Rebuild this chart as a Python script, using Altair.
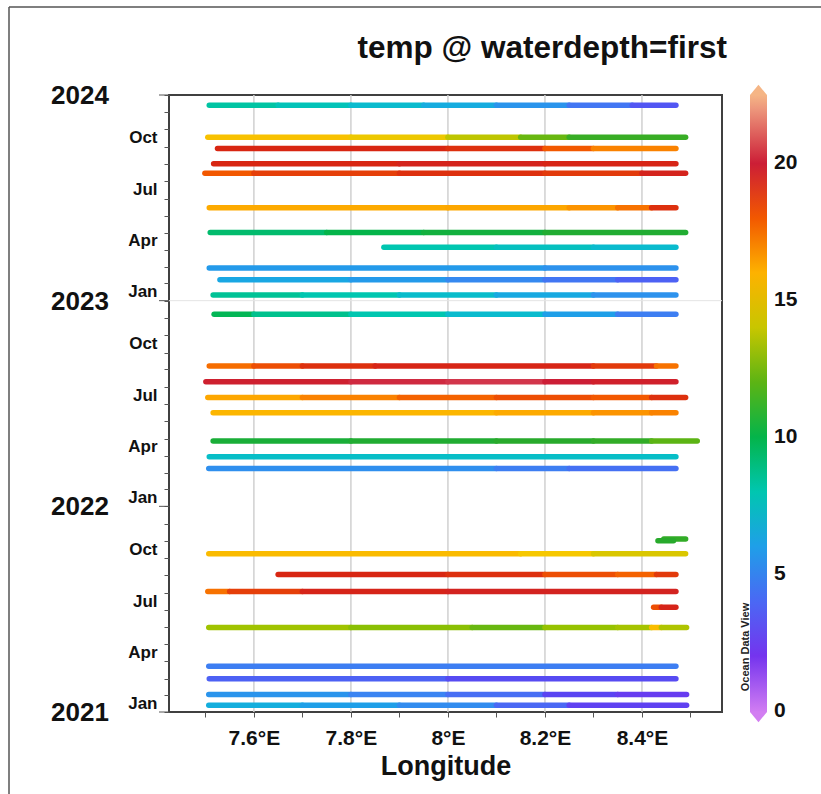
import altair as alt
import pandas as pd

FONT = "Liberation Sans"

# ---------------- data ----------------
dates = ["2023-12-14", "2023-10-18", "2023-09-28", "2023-09-01", "2023-08-15",
         "2023-06-15", "2023-05-02", "2023-04-06", "2023-02-28", "2023-02-07",
         "2023-01-11", "2022-12-08", "2022-09-07", "2022-08-10", "2022-07-13",
         "2022-06-16", "2022-04-27", "2022-03-30", "2022-03-09", "2021-11-04",
         "2021-11-01", "2021-10-09", "2021-09-02", "2021-08-03", "2021-07-06",
         "2021-05-31", "2021-03-23", "2021-03-01", "2021-02-01", "2021-01-13"]

lon_knots = [
    [7.508, 7.65, 7.8, 7.95, 8.1, 8.25, 8.38, 8.47],
    [7.505, 7.8, 8.0, 8.15, 8.25, 8.49],
    [7.525, 8.0, 8.2, 8.3, 8.47],
    [7.517, 7.9, 8.2, 8.47],
    [7.499, 7.6, 7.9, 8.2, 8.4, 8.49],
    [7.508, 8.0, 8.25, 8.35, 8.42, 8.47],
    [7.51, 7.75, 7.95, 8.2, 8.49],
    [7.868, 8.1, 8.3, 8.47],
    [7.508, 8.2, 8.47],
    [7.53, 7.8, 8.0, 8.2, 8.35, 8.47],
    [7.516, 7.7, 7.9, 8.1, 8.3, 8.47],
    [7.518, 7.6, 7.8, 8.0, 8.2, 8.35, 8.47],
    [7.508, 7.6, 7.7, 7.85, 8.3, 8.43, 8.47],
    [7.501, 7.8, 8.0, 8.2, 8.3, 8.47],
    [7.505, 7.7, 7.9, 8.1, 8.3, 8.42, 8.49],
    [7.516, 8.1, 8.3, 8.42, 8.47],
    [7.516, 7.8, 8.1, 8.3, 8.42, 8.514],
    [7.508, 8.47],
    [7.507, 8.1, 8.25, 8.47],
    [8.445, 8.49],
    [8.433, 8.465],
    [7.507, 8.15, 8.3, 8.49],
    [7.65, 8.0, 8.2, 8.35, 8.43, 8.47],
    [7.505, 7.55, 7.7, 8.0, 8.47],
    [8.424, 8.44, 8.47],
    [7.507, 7.8, 8.05, 8.2, 8.35, 8.42, 8.44, 8.492],
    [7.507, 8.47],
    [7.508, 8.0, 8.47],
    [7.507, 7.8, 8.0, 8.2, 8.35, 8.492],
    [7.507, 7.7, 7.9, 8.1, 8.25, 8.492],
]

seg_temps = [
    [8.3, 7.8, 7.2, 6.5, 5.6, 4.5, 3.5],
    [15.3, 14.8, 13.8, 12.2, 11.3],
    [19.0, 18.8, 18.0, 17.2],
    [19.0, 19.3, 19.1],
    [18.0, 18.5, 18.8, 18.6, 19.3],
    [16.2, 16.3, 16.8, 17.5, 18.8],
    [9.4, 10.0, 10.4, 10.8],
    [8.0, 7.6, 7.2],
    [5.8, 5.5],
    [6.3, 5.8, 5.2, 4.5, 3.8],
    [8.6, 8.0, 7.3, 6.4, 5.5],
    [9.8, 8.8, 8.0, 7.2, 6.0, 4.8],
    [17.6, 18.2, 18.8, 19.1, 18.6, 17.5],
    [19.8, 20.2, 20.4, 20.0, 19.7],
    [16.3, 17.2, 17.8, 18.2, 18.0, 18.8],
    [15.8, 16.2, 16.8, 17.2],
    [10.6, 10.8, 11.0, 11.2, 12.0],
    [7.4],
    [5.4, 4.8, 4.3],
    [11.2],
    [11.0],
    [15.6, 15.0, 14.4],
    [19.0, 18.8, 18.2, 17.8, 18.6],
    [17.5, 18.5, 19.2, 19.4],
    [18.2, 19.2],
    [13.2, 12.8, 12.2, 13.0, 13.3, 15.5, 13.5],
    [4.8],
    [3.8, 3.2],
    [5.6, 5.0, 4.2, 3.0, 2.5],
    [6.6, 6.0, 5.3, 4.0, 2.8],
]

# colour map (Ocean Data View rainbow)
cb_values = [-0.05, 1, 2, 3, 4, 5, 6, 7, 8, 9, 10, 11, 12, 13, 14, 15, 16, 17,
             18, 19, 20, 21, 22.5]
cb_colors = ["#d27ef2", "#9a48ee", "#7434ee", "#5a44f2", "#4a68f4", "#3a84f2",
             "#1f9fe8", "#0cb8d6", "#00c6b0", "#00c084", "#04b44a", "#28aa2c",
             "#5cb414", "#96c200", "#c8c600", "#f6c800", "#fdb200", "#fc8c00",
             "#f25800", "#d82612", "#cc1e36", "#dc5a6a", "#f5b585"]
cb_labels = [0, 5, 10, 15, 20]

x_ticks = [7.5, 7.6, 7.7, 7.8, 7.9, 8.0, 8.1, 8.2, 8.3, 8.4, 8.5]
grid_lons = [7.6, 7.8, 8.0, 8.2, 8.4]
year_dates = ["2021-01-01", "2022-01-01", "2023-01-01", "2024-01-01"]
year_labels = ["2021", "2022", "2023", "2024"]
hgrid_dates = ["2023-01-01"]

# ---------------- tables ----------------
rows = []
for d, lons, temps in zip(dates, lon_knots, seg_temps):
    for i, t in enumerate(temps):
        rows.append({"date": d, "lon0": lons[i], "lon1": lons[i + 1], "temp": t})
seg_df = pd.DataFrame(rows)
grid_df = pd.DataFrame({"lon0": grid_lons})
year_df = pd.DataFrame({"date": year_dates, "label": year_labels})
hgrid_df = pd.DataFrame({"date": hgrid_dates})

def ms(s):
    return int(pd.Timestamp(s).value // 10**6)

month_vals = [ms(f"{y}-{m:02d}-01") for y in (2021, 2022, 2023) for m in range(1, 13)] + [ms("2024-01-01")]

W, H = 553, 617

xscale = alt.Scale(domain=[7.425, 8.565], nice=False, zero=False)
xaxis = alt.Axis(values=x_ticks, grid=False, domain=False,
                 labelExpr="round(datum.value*10) % 2 == 0 ? format(datum.value, '.1~f') + '°E' : ''",
                 labelFont=FONT, labelFontWeight="bold", labelFontSize=21, labelColor="#111",
                 labelPadding=10, tickSize=5, tickColor="#555",
                 title="Longitude", titleFont=FONT, titleFontWeight="bold", titleFontSize=27,
                 titleColor="#111", titlePadding=5)
yscale = alt.Scale(type="utc", domain=[ms("2021-01-01"), ms("2024-01-01")], nice=False)
yaxis = alt.Axis(values=month_vals, grid=False, domain=False, title=None,
                 labelExpr="(utcmonth(datum.value) % 3 == 0 && utcyear(datum.value) < 2024) ? utcFormat(datum.value, '%b') : ''",
                 labelFont=FONT, labelFontWeight="bold", labelFontSize=17, labelColor="#111",
                 labelBaseline="middle", labelOffset=-9, labelPadding=7,
                 tickSize=5, tickColor="#555", labelOverlap=False)

def X(field):
    return alt.X(f"{field}:Q", scale=xscale, axis=xaxis)

def Y(field):
    return alt.Y(f"{field}:T", scale=yscale, axis=yaxis)

grid = alt.Chart(grid_df).mark_rule(color="#d0d0d0", strokeWidth=1.5).encode(x=X("lon0"))

hgrid = alt.Chart(hgrid_df).mark_rule(color="#e4e4e4", strokeWidth=1).encode(
    y=Y("date"), x=alt.value(0), x2=alt.value(W))

segs = alt.Chart(seg_df).mark_rule(strokeWidth=5.5, strokeCap="round").encode(
    x=X("lon0"), x2="lon1", y=Y("date"),
    color=alt.Color("temp:Q",
                    scale=alt.Scale(domain=cb_values, range=cb_colors, interpolate="rgb"),
                    legend=alt.Legend(orient="none", legendX=581, legendY=0,
                                      direction="vertical", gradientLength=H,
                                      gradientThickness=17, gradientStrokeWidth=0,
                                      title=None, values=cb_labels, padding=0,
                                      labelFont=FONT, labelFontWeight="bold",
                                      labelFontSize=21, labelColor="#111",
                                      labelBaseline="middle", labelOffset=7)))

jan_ticks = alt.Chart(year_df).mark_rule(color="#555", strokeWidth=1).encode(
    y=Y("date"), x=alt.value(-10), x2=alt.value(0))

years = alt.Chart(year_df).mark_text(font=FONT, fontWeight="bold", fontSize=26,
                                     color="#111", align="center", baseline="middle", dy=1).encode(
    y=Y("date"), x=alt.value(-89), text="label:N")

title = alt.Chart(pd.DataFrame({"t": ["temp @ waterdepth=first"]})).mark_text(
    font=FONT, fontWeight="bold", fontSize=31.5, color="#111", align="right",
    baseline="alphabetic").encode(x=alt.value(558), y=alt.value(-37), text="t:N")

odv = alt.Chart(pd.DataFrame({"t": ["Ocean Data View"]})).mark_text(
    font=FONT, fontWeight="bold", fontSize=11, color="#222", align="center",
    baseline="middle", angle=270).encode(x=alt.value(577), y=alt.value(552), text="t:N")

tip_top = alt.Chart(pd.DataFrame({"k": [0]})).mark_point(
    shape="M -1 0.2 L 0 -1 L 1 0.2 Z", filled=True, size=289, color="#f5b585",
    opacity=1, strokeWidth=0).encode(x=alt.value(589.5), y=alt.value(-1.7))
tip_bot = alt.Chart(pd.DataFrame({"k": [0]})).mark_point(
    shape="M -1 -0.2 L 0 1 L 1 -0.2 Z", filled=True, size=289, color="#d27ef2",
    opacity=1, strokeWidth=0).encode(x=alt.value(589.5), y=alt.value(H + 1.7))

border_left = alt.Chart(pd.DataFrame({"k": [0]})).mark_rule(color="#555", strokeWidth=1.5).encode(
    x=alt.value(-160), y=alt.value(-88), y2=alt.value(710))
border_top = alt.Chart(pd.DataFrame({"k": [0]})).mark_rule(color="#555", strokeWidth=1.5).encode(
    x=alt.value(-160), x2=alt.value(660), y=alt.value(-88))

chart = alt.layer(grid, hgrid, segs, jan_ticks, years, title, odv, tip_top, tip_bot,
                  border_left, border_top).properties(
    width=W, height=H,
    padding={"left": 169, "top": 95, "right": 99, "bottom": 82},
    autosize=alt.AutoSizeParams(type="none"),
    background="white",
).configure_view(stroke="#404040", strokeWidth=2)

chart.save("out.html", embed_options={"renderer": "svg", "actions": False})
